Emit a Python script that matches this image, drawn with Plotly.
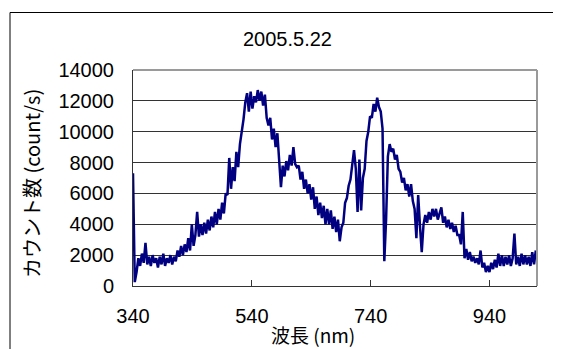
import plotly.graph_objects as go

title_text = "2005.5.22"
x_title = "波長 (nm)"
y_title = "カウント数 (count/s)"
x_ticks = [340, 540, 740, 940]
y_ticks = [0, 2000, 4000, 6000, 8000, 10000, 12000, 14000]

# counts sampled every 3 nm starting at 340 nm (rows of 10)
counts = [
    7300, 250, 900, 1800, 1300, 2100, 1500, 2800, 1400, 1900,      # 340
    1300, 2000, 1500, 1800, 1200, 1900, 1400, 2100, 1300, 1800,    # 370
    1500, 2000, 1400, 1900, 1600, 2300, 1900, 2600, 2000, 2700,    # 400
    2200, 3100, 2300, 4000, 2600, 3300, 4800, 3200, 4000, 3300,    # 430
    4100, 3400, 4300, 3600, 4500, 3800, 4800, 4000, 5000, 4300,    # 460
    5400, 4700, 6000, 5900, 8300, 6300, 7700, 6800, 8700, 7700,    # 490
    9200, 9900, 10800, 11900, 12500, 11300, 12600, 11500, 12300, 11900,  # 520
    12700, 12000, 12600, 11700, 12400, 10900, 10400, 10900, 9500, 10200,  # 550
    9000, 9900, 8300, 6400, 7800, 7100, 8100, 7500, 8500, 7800,    # 580
    9000, 7900, 7700, 7800, 6900, 7400, 6300, 6900, 6000, 6600,    # 610
    5600, 6400, 5000, 5800, 4600, 5400, 4400, 5200, 4000, 5000,    # 640
    4000, 4900, 3700, 4500, 3500, 4300, 2900, 3800, 4100, 5400,    # 670
    5700, 6500, 6900, 7800, 8800, 7600, 4800, 8200, 4900, 7000,    # 700
    7600, 9400, 10000, 11000, 10900, 11800, 11300, 12200, 11600, 11300,  # 730
    10200, 1600, 4300, 8400, 9200, 8700, 8900, 8200, 8500, 7600,   # 760
    7400, 6700, 7000, 6200, 6600, 5800, 6600, 5500, 5000, 3100,    # 790
    5900, 3900, 2200, 4000, 4600, 4100, 4800, 4300, 5000, 4500,    # 820
    5000, 4300, 4800, 5100, 4100, 4500, 3800, 4300, 3700, 4100,    # 850
    3500, 3900, 3300, 3300, 2700, 4800, 1800, 2400, 1700, 2200,    # 880
    1600, 1900, 1500, 1800, 1400, 2300, 1200, 1500, 900, 1300,     # 910
    900, 1500, 1100, 1700, 1200, 2100, 1300, 2000, 1300, 1900,     # 940
    1400, 2000, 1300, 1800, 3400, 1400, 1900, 1300, 2100, 1400,    # 970
    2000, 1400, 1900, 1300, 2200, 1400, 2300,                      # 1000
]
wavelengths = list(range(340, 1019, 3))
n = min(len(wavelengths), len(counts))
wavelengths = wavelengths[:n]
counts = counts[:n]

FONT = "Liberation Sans, Arial, Noto Sans CJK JP"
JFONT = "Noto Sans CJK JP, Liberation Sans"

# page body has an 8px margin: figure origin is at (8, 8) in the window
OX, OY = 8, 8
L, T, PW, PH = 133 - OX, 70 - OY, 404, 216
W, H = 561 - OX, 349 - OY


def px(xp):  # window x pixel -> paper x
    return (xp - OX - L) / PW


def py(yp):  # window y pixel -> paper y
    return (T + PH - (yp - OY)) / PH


fig = go.Figure()
fig.add_trace(go.Scatter(
    x=wavelengths, y=counts, mode="lines",
    line=dict(color="#000080", width=2.5),
    showlegend=False, hoverinfo="skip",
))

fig.update_layout(
    width=W, height=H,
    margin=dict(l=L, r=W - L - PW, t=T, b=H - T - PH, autoexpand=False),
    paper_bgcolor="white", plot_bgcolor="white",
    font=dict(family=FONT, size=20, color="black"),
    xaxis=dict(
        range=[340, 1020], tickvals=x_ticks, ticktext=[str(v) for v in x_ticks],
        showgrid=False, zeroline=False,
        showline=True, linecolor="#333333", linewidth=1,
        ticks="inside", ticklen=6, tickcolor="#333333", tickwidth=1,
        ticklabelstandoff=12,
        tickfont=dict(family=FONT, size=20, color="black"),
    ),
    yaxis=dict(
        range=[0, 14000], tickvals=y_ticks, ticktext=[str(v) for v in y_ticks],
        showgrid=True, gridcolor="#333333", gridwidth=1,
        zeroline=False,
        showline=True, linecolor="#333333", linewidth=1,
        ticks="", ticklabelstandoff=14,
        tickfont=dict(family=FONT, size=20, color="black"),
    ),
    shapes=[
        dict(type="line", xref="paper", yref="paper", x0=0, x1=1, y0=1, y1=1,
             line=dict(color="#9a9a9a", width=2)),
        dict(type="line", xref="paper", yref="paper", x0=1, x1=1, y0=0, y1=1,
             line=dict(color="#9a9a9a", width=2)),
        dict(type="line", xref="paper", yref="paper",
             x0=px(10), x1=px(10), y0=py(12.5), y1=py(360),
             line=dict(color="black", width=1)),
        dict(type="line", xref="paper", yref="paper",
             x0=px(10), x1=px(580), y0=py(12.5), y1=py(12.5),
             line=dict(color="black", width=1)),
    ],
    annotations=[
        dict(text=title_text, xref="paper", yref="paper",
             x=px(287), y=py(39), xanchor="center", yanchor="middle",
             showarrow=False, font=dict(family=FONT, size=20, color="black")),
        dict(text=x_title, xref="paper", yref="paper",
             x=px(312.5), y=py(334), xanchor="center", yanchor="middle",
             showarrow=False, font=dict(family=JFONT, size=19, color="black")),
        dict(text=y_title, xref="paper", yref="paper", textangle=-90,
             x=px(31), y=py(184), xanchor="center", yanchor="middle",
             showarrow=False, font=dict(family=JFONT, size=20, color="black")),
    ],
)

fig.write_html("out.html", config={"displayModeBar": False})
